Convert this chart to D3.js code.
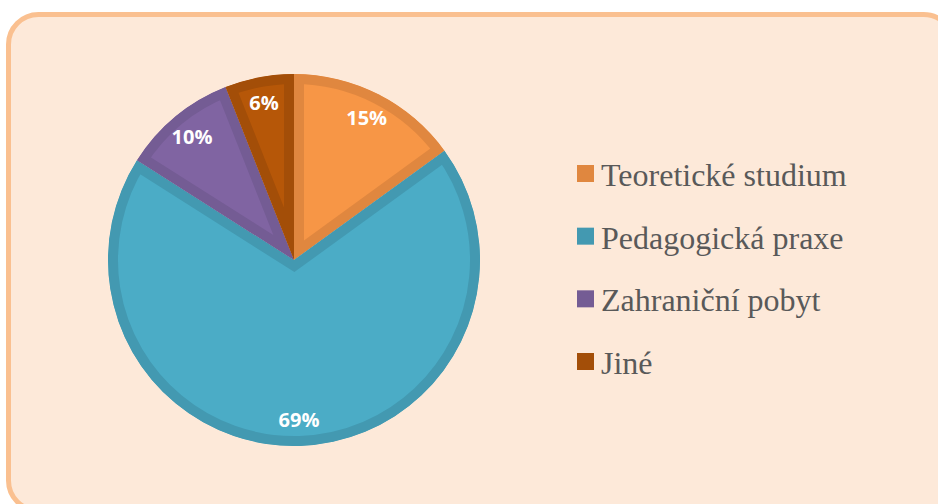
<!DOCTYPE html>
<html>
<head>
<meta charset="utf-8">
<script src="https://cdn.jsdelivr.net/npm/d3@7"></script>
<style>
  html, body { margin: 0; padding: 0; background: #fff; }
  svg { display: block; }
</style>
</head>
<body>
<div id="chart"></div>
<script>
// data
const categories = ["Teoretické studium", "Pedagogická praxe", "Zahraniční pobyt", "Jiné"];
const values = [15, 69, 10, 6];
const fills = ["#F79646", "#4BACC6", "#8064A2", "#B65708"];
const edges = ["#E0873F", "#4399B1", "#745C94", "#A34E08"];

const width = 938, height = 504;

const svg = d3.select("#chart").append("svg")
    .attr("width", width)
    .attr("height", height);

// frame
svg.append("rect")
    .attr("x", 8.5).attr("y", 14.5)
    .attr("width", 945).attr("height", 496)
    .attr("rx", 30).attr("ry", 30)
    .attr("fill", "#FDE9D9")
    .attr("stroke", "#FAC090")
    .attr("stroke-width", 5);

const cx = 294, cy = 260, radius = 186;

const pie = d3.pie().sort(null).value(d => d.value);
const arcs = pie(categories.map((c, i) => ({ name: c, value: values[i], i })));
const arc = d3.arc().innerRadius(0).outerRadius(radius);
const labelArc = d3.arc().innerRadius(160).outerRadius(160);

const defs = svg.append("defs");
const g = svg.append("g").attr("transform", `translate(${cx},${cy})`);

arcs.forEach((a, i) => {
    defs.append("clipPath").attr("id", "clip" + i)
        .append("path").attr("d", arc(a));
});

g.selectAll(".slice")
    .data(arcs)
    .enter().append("path")
    .attr("class", "slice")
    .attr("d", arc)
    .attr("clip-path", (d, i) => `url(#clip${i})`)
    .attr("fill", (d, i) => fills[i])
    .attr("stroke", (d, i) => edges[i])
    .attr("stroke-width", 20)
    .attr("stroke-linejoin", "miter");

g.selectAll(".lbl")
    .data(arcs)
    .enter().append("text")
    .attr("class", "lbl")
    .attr("transform", d => `translate(${labelArc.centroid(d)})`)
    .attr("text-anchor", "middle")
    .attr("dominant-baseline", "central")
    .style("font-family", "'Open Sans', sans-serif")
    .style("font-weight", "bold")
    .style("font-size", "20px")
    .style("fill", "#fff")
    .text(d => d.data.value + "%");

// legend
const legendY = d3.scalePoint().domain(categories).range([186, 374]);
const legend = svg.selectAll(".leg")
    .data(categories)
    .enter().append("g")
    .attr("class", "leg")
    .attr("transform", d => `translate(577,${legendY(d)})`);

legend.append("rect")
    .attr("x", 0).attr("y", -21)
    .attr("width", 17).attr("height", 17)
    .attr("fill", (d, i) => edges[i]);

legend.append("text")
    .attr("x", 24).attr("y", 0)
    .style("font-family", "'Liberation Serif', 'Times New Roman', serif")
    .style("font-size", "32px")
    .style("fill", "#595959")
    .text(d => d);
</script>
</body>
</html>
